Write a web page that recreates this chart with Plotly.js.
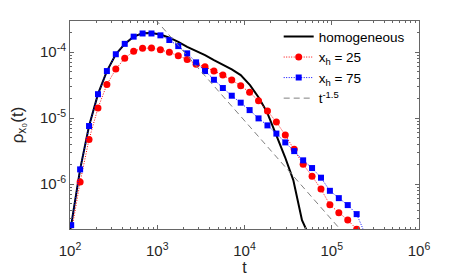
<!DOCTYPE html>
<html>
<head>
<meta charset="utf-8">
<script src="https://cdn.plot.ly/plotly-3.0.1.min.js"></script>
<style>html,body{margin:0;padding:0;background:#fff;}#chart{width:463px;height:278px;}</style>
</head>
<body>
<div id="chart"></div>
<script>
// time grid (t) for marker series
const tGrid = [103.2,130.6,165.3,209.2,264.7,335.0,423.9,536.4,678.8,859.0,1087,1376,1741,2203,2788,3527,4463,5648,7147,9045,11446,14483,18328,23193,29349,37138,46996,59470,75256,95230,120500,152500,193000,244200];
// x_h = 75 (blue squares)
const rho75 = [2.39e-7,1.67e-6,7.57e-6,2.30e-5,5.15e-5,9.26e-5,1.33e-4,1.71e-4,1.91e-4,1.91e-4,1.79e-4,1.52e-4,1.23e-4,9.55e-5,6.98e-5,5.15e-5,3.80e-5,2.85e-5,2.18e-5,1.71e-5,1.32e-5,9.89e-6,7.75e-6,5.82e-6,4.28e-6,3.16e-6,2.29e-6,1.75e-6,1.25e-6,7.91e-7,6.13e-7,4.81e-7,3.51e-7,1.69e-7];
// x_h = 25 (red circles)
const tRed = [103.2,130.6,165.3,209.2,264.7,335.0,423.9,536.4,678.8,859.0,1087,1376,1741,2203,2788,3527,4463,5648,7147,9045,11446,14483,18328,23193,29349,37138,46996,59470,75256,95230,120500,152500,193000];
const rho25 = [1.81e-7,1.08e-6,4.75e-6,1.42e-5,3.22e-5,5.52e-5,8.03e-5,1.03e-4,1.14e-4,1.15e-4,1.08e-4,9.89e-5,8.79e-5,7.74e-5,6.51e-5,5.99e-5,5.15e-5,4.48e-5,3.77e-5,3.09e-5,2.45e-5,1.83e-5,1.28e-5,8.69e-6,5.52e-6,3.36e-6,1.99e-6,1.32e-6,8.40e-7,4.85e-7,3.67e-7,2.85e-7,2.08e-7];
// homogeneous (black line)
const tHom = [100,103.2,130.6,165.3,209.2,264.7,335.0,423.9,536.4,678.8,859.0,1087,1376,1741,2203,2788,3527,4463,5648,7147,9045,11561,14665,18110,23140,29130,36250,41360,45600,52030,59470];
const rhoHom = [1.95e-7,2.39e-7,1.67e-6,7.57e-6,2.30e-5,5.15e-5,9.26e-5,1.33e-4,1.71e-4,1.92e-4,1.94e-4,1.84e-4,1.65e-4,1.43e-4,1.20e-4,1.05e-4,9.01e-5,7.57e-5,6.51e-5,5.47e-5,4.48e-5,3.16e-5,2.01e-5,1.23e-5,5.52e-6,2.57e-6,1.15e-6,5.15e-7,2.85e-7,1.94e-7,1.32e-7];
// t^-1.5 reference line
const tPow = [800, 300000];
const rhoPow = [4.04e-4, 5.56e-8];

const xTickVals = [1e2,1e3,1e4,1e5,1e6];
const xTickText = ['10<sup>2</sup>','10<sup>3</sup>','10<sup>4</sup>','10<sup>5</sup>','10<sup>6</sup>'];
const yTickVals = [1e-6,1e-5,1e-4];
const yTickText = ['10<sup>-6</sup>','10<sup>-5</sup>','10<sup>-4</sup>'];

const FONT = 'Liberation Sans, Arial, Helvetica, sans-serif';
const AX = '#666666';
const X_RANGE = [2, 6];

const traces = [
  {x: tHom, y: rhoHom, name: 'homogeneous', mode: 'lines', line: {color: '#000000', width: 2}},
  {x: tRed, y: rho25, name: 'x<sub>h</sub> = 25', mode: 'lines+markers',
   line: {color: '#ff0000', width: 1, dash: '1px,1.5px'}, marker: {symbol: 'circle', size: 7, color: '#ff0000'}},
  {x: tGrid, y: rho75, name: 'x<sub>h</sub> = 75', mode: 'lines+markers',
   line: {color: '#0000ff', width: 1, dash: '1px,1.5px'}, marker: {symbol: 'square', size: 6, color: '#0000ff'}},
  {x: tPow, y: rhoPow, name: 't<sup>-1.5</sup>', mode: 'lines', xaxis: 'x2', yaxis: 'y',
   line: {color: '#808080', width: 1, dash: '6px,4px'}}
];

const axisCommon = {
  type: 'log', showgrid: false, zeroline: false, showline: true, linecolor: AX, linewidth: 1,
  mirror: 'ticks', ticks: 'inside', ticklen: 4, tickcolor: AX,
  minor: {ticks: 'inside', ticklen: 2, tickcolor: AX, dtick: 'D1'},
  tickfont: {family: FONT, size: 15, color: '#262626'}, tickmode: 'array'
};

const layout = {
  width: 463, height: 278,
  margin: {l: 70, r: 44, t: 21, b: 49},
  paper_bgcolor: '#ffffff', plot_bgcolor: '#ffffff',
  font: {family: FONT, color: '#262626'},
  showlegend: true,
  legend: {x: 0.598, y: 0.999, xanchor: 'left', yanchor: 'top', bgcolor: 'rgba(0,0,0,0)',
           font: {family: FONT, size: 13.5, color: '#000000'}, tracegroupgap: 0},
  xaxis: Object.assign({}, axisCommon, {range: X_RANGE, tickvals: xTickVals, ticktext: xTickText,
           showticklabels: false}),
  // label-only overlay axis (same scale): transparent outside ticks push the labels lower
  xaxis2: {type: 'log', overlaying: 'x', anchor: 'y', side: 'bottom', range: X_RANGE,
           showgrid: false, zeroline: false, showline: false,
           ticks: 'outside', ticklen: 8, tickcolor: 'rgba(0,0,0,0)',
           tickmode: 'array', tickvals: xTickVals, ticktext: xTickText,
           tickfont: {family: FONT, size: 15, color: '#262626'},
           title: {text: 't', font: {family: FONT, size: 16, color: '#262626'}, standoff: 1}},
  yaxis: Object.assign({}, axisCommon, {range: [-6.68, -3.53], tickvals: yTickVals, ticktext: yTickText,
           title: {text: 'ρ<sub>x₀</sub>(t)', font: {family: FONT, size: 17, color: '#262626'}, standoff: 12}})
};

Plotly.newPlot('chart', traces, layout, {displayModeBar: false, staticPlot: true});
</script>
</body>
</html>
